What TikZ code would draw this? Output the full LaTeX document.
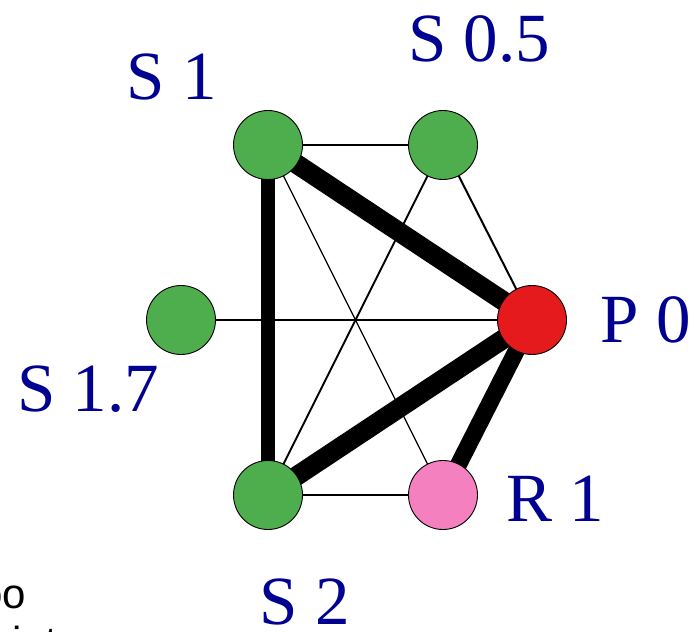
\documentclass[tikz,border=0pt]{standalone}
\usepackage{fontspec}
\setmainfont{Liberation Serif}
\newfontfamily\sansf{Liberation Sans}
\usetikzlibrary{backgrounds}
\definecolor{gnode}{RGB}{78,173,76}
\definecolor{rnode}{RGB}{228,26,28}
\definecolor{pnode}{RGB}{245,128,192}
\definecolor{navy}{RGB}{0,0,145}
\tikzset{
  vert/.style={circle,draw=black,line width=0.9pt,minimum size=69pt,inner sep=0pt},
  lbl/.style={anchor=base,text=navy,font=\fontsize{69}{70}\selectfont,inner sep=0pt},
  thinedge/.style={line width=2pt},
  hairedge/.style={line width=1.2pt},
  heavyedge/.style={line width=19.5pt},
  midedge/.style={line width=14pt},
}
\begin{document}
\begin{tikzpicture}[x=1pt,y=-1pt]
\useasboundingbox (0,0) rectangle (697,632);
\node[vert,fill=gnode] (S1) at (268,145) {};
\node[vert,fill=gnode] (S05) at (443,145) {};
\node[vert,fill=gnode] (S17) at (181,320) {};
\node[vert,fill=rnode] (P0) at (532,320) {};
\node[vert,fill=gnode] (S2) at (268,495) {};
\node[vert,fill=pnode] (R1) at (443,495) {};
\begin{pgfonlayer}{background}
\draw[thinedge] (S1.center) -- (S05.center);
\draw[thinedge] (S05.center) -- (S2.center);
\draw[thinedge] (S05.center) -- (P0.center);
\draw[thinedge] (S17.center) -- (P0.center);
\draw[thinedge] (S2.center) -- (R1.center);
\draw[hairedge] (S1.center) -- (R1.center);
\draw[heavyedge] (S1.center) -- (P0.center);
\draw[heavyedge] (S2.center) -- (P0.center);
\draw[line width=17pt] (R1.center) -- (P0.center);
\draw[midedge] (S1.center) -- (S2.center);
\end{pgfonlayer}
\node[lbl] (lS05) at (479,61) {S 0.5};
\node[lbl] (lS1) at (172,99) {S 1};
\node[lbl] (lS17) at (88,411) {S 1.7};
\node[lbl] (lP0) at (646,342) {P 0};
\node[lbl] (lR1) at (555,521) {R 1};
\node[lbl] (lS2) at (305,624) {S 2};
\node[anchor=base west,inner sep=0pt,font=\sansf\fontsize{42}{44}\selectfont] (txt) at (-21,608) {oo};
\node[anchor=base west,inner sep=0pt,font=\sansf\fontsize{42}{44}\selectfont] (txt2) at (-34,656) {pointers};
\end{tikzpicture}
\end{document}
